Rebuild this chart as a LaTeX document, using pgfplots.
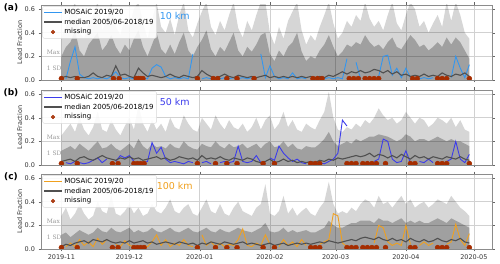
\documentclass[border=0pt]{standalone}
\usepackage{fontspec}
\setmainfont{DejaVu Sans}
\newfontfamily\notefont{DejaVu Serif}
\usepackage{pgfplots}
\usepackage{pgfplotstable}
\pgfplotsset{compat=1.18}
\definecolor{cA}{RGB}{50,150,240}
\definecolor{cB}{RGB}{60,60,235}
\definecolor{cC}{RGB}{240,160,30}
\definecolor{miss}{RGB}{165,45,0}
\definecolor{medc}{RGB}{80,80,80}

\pgfplotstableread{
d mx sd md mo
0 0.36 0.20 0.02 nan
2 0.45 0.28 0.03 0.01
4 0.55 0.32 0.02 0.16
6 0.66 0.42 0.03 0.28
8 0.40 0.25 0.02 0.05
10 0.35 0.20 0.02 0.02
12 0.48 0.30 0.03 0.01
14 0.55 0.35 0.06 0.02
16 0.66 0.40 0.03 0.01
18 0.42 0.25 0.02 0.02
20 0.50 0.30 0.04 0.01
22 0.66 0.38 0.03 0.03
24 0.45 0.28 0.12 0.07
26 0.38 0.22 0.04 0.02
28 0.52 0.30 0.05 0.01
30 0.44 0.25 0.03 0.02
32 0.60 0.35 0.02 0.01
34 0.66 0.42 0.10 nan
36 0.48 0.28 0.06 0.02
38 0.35 0.20 0.03 0.01
40 0.50 0.30 0.04 0.10
42 0.66 0.40 0.03 0.13
44 0.45 0.26 0.02 0.11
46 0.40 0.22 0.03 0.03
48 0.52 0.30 0.05 0.01
50 0.38 0.22 0.03 0.02
52 0.55 0.32 0.02 0.01
54 0.66 0.40 0.04 0.02
56 0.42 0.25 0.03 0.01
58 0.36 0.20 0.02 0.22
60 0.48 0.28 0.03 nan
62 0.58 0.34 0.08 0.01
64 0.66 0.42 0.05 0.02
66 0.45 0.26 0.03 0.01
68 0.38 0.20 0.02 nan
70 0.50 0.28 0.03 0.01
72 0.42 0.24 0.05 0.02
74 0.55 0.32 0.03 0.01
76 0.66 0.40 0.02 0.02
78 0.44 0.25 0.04 0.01
80 0.36 0.20 0.03 0.02
82 0.50 0.28 0.02 0.01
84 0.42 0.24 0.03 0.02
86 0.55 0.30 0.02 nan
88 0.66 0.38 0.03 0.22
90 0.66 0.40 0.04 0.02
92 0.40 0.22 0.02 0.12
94 0.30 0.16 0.03 0.03
96 0.45 0.25 0.02 0.01
98 0.35 0.20 0.03 0.02
100 0.50 0.28 0.02 0.01
102 0.58 0.32 0.03 0.06
104 0.66 0.40 0.02 0.01
106 0.42 0.24 0.03 0.02
108 0.30 0.16 0.02 0.01
110 0.38 0.20 0.03 nan
112 0.33 0.18 0.02 nan
114 0.45 0.25 0.03 nan
116 0.55 0.30 0.02 0.01
118 0.66 0.38 0.04 0.02
120 0.48 0.28 0.03 0.01
122 0.35 0.20 0.05 0.02
124 0.40 0.24 0.07 0.01
126 0.50 0.30 0.05 0.18
128 0.45 0.28 0.07 nan
130 0.55 0.32 0.06 0.15
132 0.50 0.30 0.08 0.01
134 0.66 0.38 0.06 nan
136 0.52 0.32 0.07 nan
138 0.45 0.28 0.09 nan
140 0.50 0.30 0.08 0.03
142 0.42 0.26 0.06 0.20
144 0.55 0.32 0.08 0.21
146 0.66 0.36 0.05 0.04
148 0.48 0.28 0.07 0.10
150 0.42 0.26 0.04 0.02
152 0.55 0.32 0.05 0.10
154 0.66 0.38 0.03 0.02
156 0.60 0.34 0.04 nan
158 0.45 0.28 0.03 0.01
160 0.50 0.30 0.05 0.02
162 0.40 0.25 0.03 0.01
164 0.48 0.28 0.04 0.02
166 0.55 0.32 0.03 nan
168 0.45 0.28 0.06 0.17
170 0.66 0.36 0.04 nan
172 0.50 0.30 0.03 0.02
174 0.66 0.36 0.05 0.20
176 0.55 0.32 0.04 0.10
178 0.40 0.25 0.06 0.02
180 0.35 0.18 0.03 0.13
}\dataA

\pgfplotstableread{
d mx sd md mo
0 0.25 0.12 0.03 nan
2 0.30 0.14 0.04 0.02
4 0.35 0.16 0.05 0.01
6 0.28 0.13 0.03 0.03
8 0.40 0.18 0.06 0.02
10 0.30 0.15 0.07 0.01
12 0.25 0.12 0.05 0.02
14 0.32 0.16 0.04 0.04
16 0.45 0.20 0.06 0.06
18 0.30 0.14 0.08 0.02
20 0.28 0.15 0.06 0.05
22 0.38 0.18 0.05 nan
24 0.30 0.14 0.04 0.03
26 0.25 0.12 0.06 0.08
28 0.33 0.15 0.05 0.06
30 0.40 0.18 0.07 0.08
32 0.30 0.14 0.05 0.03
34 0.50 0.22 0.06 nan
36 0.35 0.16 0.04 0.02
38 0.28 0.13 0.05 0.03
40 0.38 0.18 0.06 0.19
42 0.30 0.15 0.07 0.10
44 0.35 0.16 0.05 0.15
46 0.28 0.14 0.06 0.05
48 0.40 0.18 0.04 0.02
50 0.32 0.15 0.05 0.03
52 0.30 0.14 0.07 0.02
54 0.42 0.20 0.06 0.01
56 0.35 0.16 0.05 0.03
58 0.30 0.14 0.06 0.02
60 0.28 0.13 0.04 nan
62 0.40 0.18 0.08 0.02
64 0.35 0.16 0.05 0.03
66 0.30 0.15 0.06 0.01
68 0.42 0.20 0.05 nan
70 0.35 0.16 0.07 0.02
72 0.30 0.14 0.05 0.03
74 0.38 0.18 0.04 0.02
76 0.32 0.15 0.06 0.03
78 0.30 0.16 0.05 0.16
80 0.35 0.18 0.04 0.03
82 0.28 0.14 0.06 0.02
84 0.32 0.16 0.05 0.03
86 0.40 0.18 0.03 0.08
88 0.30 0.14 0.02 0.02
90 0.38 0.18 0.03 nan
92 0.42 0.20 0.05 0.06
94 0.30 0.15 0.02 0.04
96 0.35 0.16 0.03 0.16
98 0.45 0.20 0.05 0.10
100 0.32 0.15 0.03 0.06
102 0.38 0.18 0.04 0.03
104 0.30 0.14 0.02 0.05
106 0.28 0.13 0.03 0.02
108 0.35 0.16 0.02 0.01
110 0.32 0.15 0.03 nan
112 0.30 0.15 0.02 nan
114 0.38 0.18 0.04 0.02
116 0.45 0.22 0.03 0.01
118 0.62 0.28 0.05 0.03
120 0.40 0.20 0.04 0.05
122 0.30 0.16 0.06 0.10
124 0.28 0.18 0.05 0.38
126 0.32 0.20 0.06 0.33
128 0.30 0.18 0.07 nan
130 0.35 0.22 0.08 nan
132 0.32 0.20 0.07 0.02
134 0.38 0.22 0.08 nan
136 0.35 0.24 0.10 nan
138 0.40 0.24 0.07 0.03
140 0.48 0.26 0.09 0.05
142 0.42 0.25 0.08 0.22
144 0.38 0.24 0.06 0.20
146 0.40 0.22 0.08 0.05
148 0.35 0.20 0.06 0.02
150 0.38 0.22 0.09 0.03
152 0.45 0.26 0.07 0.12
154 0.40 0.24 0.05 0.02
156 0.35 0.20 0.08 nan
158 0.40 0.22 0.06 0.03
160 0.38 0.22 0.07 0.02
162 0.32 0.20 0.05 0.05
164 0.35 0.22 0.07 0.02
166 0.40 0.24 0.06 nan
168 0.38 0.22 0.05 nan
170 0.35 0.20 0.07 0.03
172 0.40 0.22 0.06 0.05
174 0.32 0.20 0.05 0.20
176 0.38 0.20 0.07 0.05
178 0.30 0.18 0.05 0.02
180 0.28 0.16 0.04 0.09
}\dataB

\pgfplotstableread{
d mx sd md mo
0 0.28 0.12 0.02 nan
2 0.35 0.14 0.04 0.02
4 0.25 0.10 0.03 0.05
6 0.30 0.13 0.05 0.02
8 0.38 0.16 0.06 0.08
10 0.30 0.14 0.07 0.03
12 0.25 0.12 0.05 0.06
14 0.28 0.14 0.08 0.02
16 0.40 0.18 0.07 0.09
18 0.32 0.15 0.06 0.04
20 0.30 0.14 0.08 0.08
22 0.45 0.18 0.06 nan
24 0.30 0.15 0.05 0.04
26 0.28 0.14 0.06 0.02
28 0.32 0.16 0.05 0.07
30 0.38 0.18 0.07 0.03
32 0.30 0.14 0.05 0.02
34 0.35 0.16 0.06 nan
36 0.28 0.14 0.07 0.03
38 0.30 0.15 0.05 0.02
40 0.38 0.18 0.06 0.06
42 0.32 0.15 0.04 0.12
44 0.30 0.14 0.05 0.03
46 0.35 0.16 0.06 0.08
48 0.42 0.18 0.05 0.02
50 0.32 0.15 0.04 0.05
52 0.30 0.14 0.06 0.03
54 0.35 0.16 0.05 0.08
56 0.38 0.18 0.04 0.03
58 0.30 0.15 0.05 0.02
60 0.28 0.14 0.03 nan
62 0.35 0.16 0.05 0.12
64 0.42 0.18 0.04 0.03
66 0.32 0.15 0.06 0.06
68 0.30 0.14 0.05 0.02
70 0.38 0.17 0.04 0.05
72 0.30 0.15 0.06 0.02
74 0.28 0.14 0.05 0.04
76 0.35 0.16 0.04 0.03
78 0.40 0.18 0.05 0.08
80 0.32 0.16 0.06 0.17
82 0.30 0.15 0.04 0.03
84 0.28 0.14 0.05 0.02
86 0.35 0.16 0.04 0.05
88 0.38 0.18 0.03 0.03
90 0.55 0.22 0.04 0.12
92 0.30 0.15 0.05 0.04
94 0.28 0.14 0.03 nan
96 0.32 0.15 0.04 0.02
98 0.45 0.18 0.05 0.08
100 0.30 0.14 0.03 0.03
102 0.35 0.16 0.04 0.06
104 0.28 0.14 0.05 0.02
106 0.32 0.15 0.04 0.08
108 0.35 0.16 0.05 0.03
110 0.30 0.14 0.04 nan
112 0.28 0.14 0.05 nan
114 0.35 0.16 0.06 0.04
116 0.40 0.18 0.05 0.06
118 0.57 0.24 0.07 0.08
120 0.38 0.20 0.06 0.30
122 0.30 0.18 0.05 0.28
124 0.32 0.18 0.06 0.05
126 0.30 0.20 0.07 0.02
128 0.35 0.22 0.08 nan
130 0.32 0.22 0.07 nan
132 0.38 0.24 0.09 0.04
134 0.42 0.24 0.10 nan
136 0.40 0.24 0.09 nan
138 0.35 0.22 0.08 0.05
140 0.45 0.26 0.10 0.20
142 0.38 0.24 0.08 0.18
144 0.40 0.24 0.07 0.06
146 0.35 0.22 0.09 0.03
148 0.40 0.24 0.07 0.05
150 0.45 0.26 0.08 0.03
152 0.38 0.22 0.06 0.20
154 0.42 0.24 0.09 0.04
156 0.35 0.22 0.07 nan
158 0.38 0.24 0.06 0.03
160 0.40 0.22 0.08 0.06
162 0.35 0.22 0.06 0.03
164 0.38 0.24 0.07 0.05
166 0.42 0.26 0.09 nan
168 0.40 0.24 0.07 nan
170 0.38 0.22 0.06 0.04
172 0.45 0.26 0.08 0.06
174 0.40 0.24 0.07 0.21
176 0.35 0.22 0.09 0.08
178 0.32 0.20 0.06 0.03
180 0.28 0.18 0.05 0.13
}\dataC

\pgfplotsset{
  panel/.style={
    scale only axis, width=451pt, height=75pt,
    xmin=-9, xmax=190, ymin=0, ymax=0.635,
    xtick={0,30,61,92,121,152,182},
    ytick={0,0.2,0.4,0.6},
    yticklabel style={/pgf/number format/.cd, fixed, fixed zerofill, precision=1},
    /pgf/number format/assume math mode=true,
    grid=major, grid style={black!18, line width=0.6pt},
    axis line style={black!45},
    tick align=outside, major tick length=2.5pt, tick style={black!60},
    ticklabel style={font=\fontsize{6.5}{7}\selectfont, text=black!80},
    ylabel={Lead Fraction},
    ylabel style={font=\fontsize{6.5}{7}\selectfont, text=black!80, at={(axis description cs:-0.047,0.5)}, anchor=center},
    legend cell align=left,
    legend style={at={(axis description cs:0.003,0.985)}, anchor=north west,
      font=\fontsize{7}{8}\selectfont, draw=black!15, fill=white, fill opacity=0.88,
      text opacity=1, rounded corners=2pt, inner sep=1pt, row sep=-1.2pt},
    unbounded coords=jump,
    clip marker paths=true,
  },
  maxfill/.style={fill=black, fill opacity=0.16, draw=none, forget plot},
  sdfill/.style={fill=black, fill opacity=0.25, draw=none, forget plot},
  medline/.style={color=medc, line width=1.1pt, legend image post style={line width=1.8pt}},
  mosline/.style={line width=0.9pt, legend image post style={line width=1.5pt}},
  missdots/.style={only marks, mark=*, mark size=2.5pt, color=miss, mark options={draw=miss, fill=miss}, legend image post style={mark size=1.8pt}},
}
\newcommand{\missA}{(0,0.012) (7,0.012) (23,0.012) (25.5,0.012) (33,0.012) (34,0.012) (35,0.012) (36,0.012) (60,0.012) (67,0.012) (69,0.012) (73,0.012) (77.5,0.012) (85,0.012) (111,0.012) (113,0.012) (115,0.012) (127,0.012) (129,0.012) (131,0.012) (134,0.012) (136,0.012) (138,0.012) (140,0.012) (155,0.012) (157,0.012) (166,0.012) (168,0.012) (170,0.012) (180,0.012)}
\newcommand{\missB}{(0,0.012) (7,0.012) (22.5,0.012) (25,0.012) (32,0.012) (33.5,0.012) (35,0.012) (36.5,0.012) (60,0.012) (68,0.012) (73,0.012) (77.5,0.012) (89,0.012) (94,0.012) (110,0.012) (112,0.012) (114,0.012) (126,0.012) (128,0.012) (130,0.012) (133,0.012) (135,0.012) (137,0.012) (139,0.012) (143,0.012) (154,0.012) (156,0.012) (166,0.012) (168,0.012) (170,0.012) (180,0.012)}

\begin{document}
\begin{tikzpicture}[x=1pt,y=1pt]
\useasboundingbox (0,0) rectangle (500,264);

% (a)
\begin{axis}[panel, at={(41pt,184pt)}, anchor=south west, xticklabels={}]
\addplot[maxfill] table[x=d,y=mx] {\dataA} \closedcycle;
\addplot[sdfill] table[x=d,y=sd] {\dataA} \closedcycle;
\addplot[mosline, color=cA] table[x=d,y=mo] {\dataA};
\addlegendentry{MOSAiC 2019/20}
\addplot[medline] table[x=d,y=md] {\dataA};
\addlegendentry{median 2005/06-2018/19}
\addplot[missdots] coordinates {\missA};
\addlegendentry{missing}
\node[font=\fontsize{9.5}{10}\selectfont, text=cA] at (axis cs:50,0.54) {10 km};
\node[font=\notefont\fontsize{6}{7}\selectfont, text=black!40, anchor=west] at (axis cs:-8,0.235) {Max};
\node[font=\notefont\fontsize{6}{7}\selectfont, text=black!40, anchor=west] at (axis cs:-8,0.10) {1 SD};
\end{axis}

% (b)
\begin{axis}[panel, at={(41pt,99pt)}, anchor=south west, xticklabels={}]
\addplot[maxfill] table[x=d,y=mx] {\dataB} \closedcycle;
\addplot[sdfill] table[x=d,y=sd] {\dataB} \closedcycle;
\addplot[mosline, color=cB] table[x=d,y=mo] {\dataB};
\addlegendentry{MOSAiC 2019/20}
\addplot[medline] table[x=d,y=md] {\dataB};
\addlegendentry{median 2005/06-2018/19}
\addplot[missdots] coordinates {\missB};
\addlegendentry{missing}
\node[font=\fontsize{9.5}{10}\selectfont, text=cB] at (axis cs:50,0.53) {50 km};
\node[font=\notefont\fontsize{6}{7}\selectfont, text=black!40, anchor=west] at (axis cs:-8,0.235) {Max};
\node[font=\notefont\fontsize{6}{7}\selectfont, text=black!40, anchor=west] at (axis cs:-8,0.10) {1 SD};
\end{axis}

% (c)
\begin{axis}[panel, at={(41pt,15pt)}, anchor=south west,
  xticklabels={2019-11,2019-12,2020-01,2020-02,2020-03,2020-04,2020-05}]
\addplot[maxfill] table[x=d,y=mx] {\dataC} \closedcycle;
\addplot[sdfill] table[x=d,y=sd] {\dataC} \closedcycle;
\addplot[mosline, color=cC] table[x=d,y=mo] {\dataC};
\addlegendentry{MOSAiC 2019/20}
\addplot[medline] table[x=d,y=md] {\dataC};
\addlegendentry{median 2005/06-2018/19}
\addplot[missdots] coordinates {\missB};
\addlegendentry{missing}
\node[font=\fontsize{9.5}{10}\selectfont, text=cC] at (axis cs:50,0.53) {100 km};
\node[font=\notefont\fontsize{6}{7}\selectfont, text=black!40, anchor=west] at (axis cs:-8,0.235) {Max};
\node[font=\notefont\fontsize{6}{7}\selectfont, text=black!40, anchor=west] at (axis cs:-8,0.10) {1 SD};
\end{axis}

\node[font=\bfseries\fontsize{9}{10}\selectfont] at (11pt,256pt) {(a)};
\node[font=\bfseries\fontsize{9}{10}\selectfont] at (11pt,171pt) {(b)};
\node[font=\bfseries\fontsize{9}{10}\selectfont] at (11pt,87pt) {(c)};
\end{tikzpicture}
\end{document}
